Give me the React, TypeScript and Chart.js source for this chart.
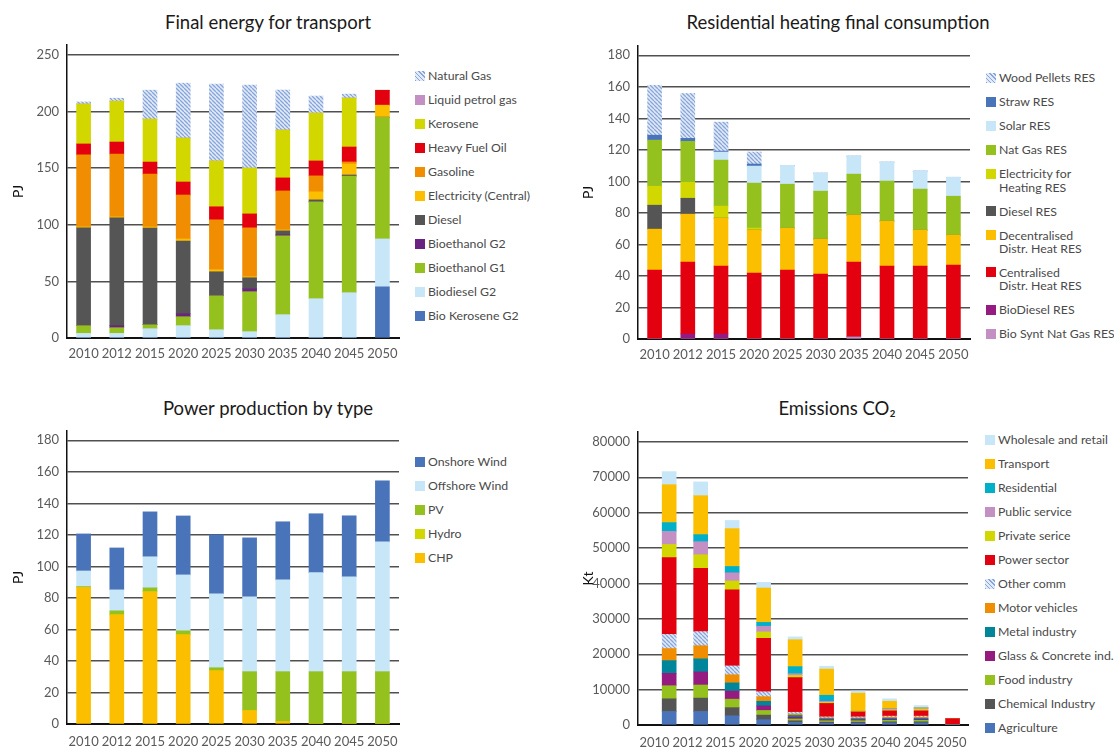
import React, { useEffect, useRef } from "react";
import { Chart, registerables } from "chart.js";

Chart.register(...registerables);

const FONT = "Lato, 'Noto Sans', sans-serif";

const years = ["2010", "2012", "2015", "2020", "2025", "2030", "2035", "2040", "2045", "2050"];

// ---- Final energy for transport (PJ) ----
const trBioKeroseneG2 = [0, 0, 0, 0, 0, 0, 0, 0, 0, 45.2];
const trBiodieselG2 = [4.1, 4.1, 8.2, 10.9, 7.3, 5.6, 20.6, 34.7, 40, 42.3];
const trBioethanolG1 = [6.8, 5, 3.5, 7.9, 30, 35.3, 69.6, 85.5, 103.1, 107.5];
const trBioethanolG2 = [0, 1.8, 0, 2.6, 0, 2.6, 0.9, 0, 0, 0];
const trDiesel = [86.4, 95.2, 85.5, 64.3, 21.2, 9.7, 3.5, 1.8, 0.9, 0];
const trElectricity = [0.9, 0.9, 0.9, 1.8, 1.8, 0.9, 0.9, 7.1, 9.7, 10.6];
const trGasoline = [63.5, 55.5, 46.7, 38.8, 44.1, 43.2, 34.4, 14.1, 1.8, 0];
const trHeavyFuelOil = [9.7, 10.6, 10.6, 11.5, 11.5, 12.3, 11.5, 13.2, 13.2, 13.2];
const trKerosene = [35.3, 36.1, 37.9, 38.8, 40.5, 40.5, 42.3, 42.3, 43.2, 0];
const trLiquidPetrolGas = [0, 0, 0, 0, 0, 0, 0, 0, 0, 0];
const trNaturalGas = [1.8, 2.6, 25.6, 48.5, 67.9, 73.2, 35.3, 15, 3.5, 0];

// ---- Residential heating final consumption (PJ) ----
const rsBioSyntNatGas = [0, 0, 0, 0, 0, 0, 1.3, 0, 0, 0];
const rsBioDiesel = [0, 3.2, 3.2, 0, 0, 0, 0, 0, 0, 0];
const rsCentralised = [43.7, 45.6, 43.1, 41.8, 43.7, 41.2, 47.5, 46.3, 46.3, 46.9];
const rsDecentralised = [26, 30.4, 30.4, 27.3, 26.6, 22.2, 29.8, 28.5, 22.8, 19];
const rsDiesel = [15.2, 10.1, 0, 0, 0, 0, 0, 0, 0, 0];
const rsElectricity = [12, 10.1, 7.6, 1.3, 0, 0, 0, 0, 0, 0];
const rsNatGas = [29.2, 26, 29.2, 28.5, 27.9, 30.4, 26, 25.4, 26, 24.7];
const rsSolar = [0, 0, 5.1, 10.8, 12, 11.4, 11.4, 12, 11.4, 12];
const rsStraw = [3.2, 1.9, 0.6, 1.3, 0, 0, 0, 0, 0, 0];
const rsWoodPellets = [31.7, 28.5, 18.4, 7.6, 0, 0, 0, 0, 0, 0];

// ---- Power production by type (PJ) ----
const pwCHP = [86.6, 69.3, 83.9, 56.6, 33.8, 8.5, 1.5, 0, 0, 0];
const pwHydro = [0, 0, 0, 0, 0, 0, 0, 0, 0, 0];
const pwPV = [0.6, 2.5, 2.5, 2.5, 1.9, 24.7, 31.7, 33.2, 33.2, 33.2];
const pwOffshore = [9.9, 13.3, 19.7, 35.5, 46.9, 47.5, 58.3, 62.8, 60.2, 82.4];
const pwOnshore = [23.5, 26.6, 28.5, 37.4, 37.4, 37.4, 36.8, 37.4, 38.7, 38.7];

// ---- Emissions CO2 (kt) ----
const emAgriculture = [3800, 3800, 2600, 1500, 700, 500, 500, 600, 600, 0];
const emChemical = [3600, 3800, 2300, 1300, 500, 300, 300, 300, 300, 0];
const emFood = [3700, 3700, 2400, 1300, 500, 400, 400, 400, 400, 0];
const emGlass = [3500, 3700, 2300, 1300, 500, 300, 300, 300, 300, 0];
const emMetal = [3600, 3700, 2300, 1300, 500, 300, 300, 300, 300, 0];
const emMotor = [3400, 3700, 2300, 1300, 400, 200, 200, 300, 300, 0];
const emOtherComm = [4000, 4000, 2500, 1400, 500, 300, 300, 300, 300, 0];
const emPower = [21700, 17900, 21500, 15100, 9800, 3800, 1400, 1500, 1500, 1800];
const emPrivate = [3700, 3800, 2500, 1800, 600, 300, 200, 300, 500, 0];
const emPublic = [3700, 3700, 2300, 1600, 500, 300, 0, 300, 300, 0];
const emResidential = [2500, 2000, 1800, 1100, 2000, 1700, 0, 0, 0, 0];
const emTransport = [10700, 11000, 10700, 9700, 7600, 7400, 5100, 2100, 100, 0];
const emWholesale = [3700, 3900, 2300, 1600, 800, 800, 600, 700, 600, 0];

const C = {
  hatch: "hatch",
  lavender: "#c490c4",
  lime: "#d3d700",
  red: "#e3000f",
  orange: "#f18d00",
  gold: "#fbbf00",
  dark: "#555555",
  purple: "#6b2382",
  magenta: "#951b81",
  green: "#95c11f",
  sky: "#c7e6f8",
  blue: "#4a74ba",
  cyan: "#00afc8",
  teal: "#00869b",
};

type Series = { label: string[]; data: number[]; color: string };
type PanelCfg = {
  title: string;
  titleX: number;
  titleY: number;
  left: number;
  top: number;
  width: number;
  height: number;
  padLeft: number;
  padRight: number;
  yWidth: number;
  yMax: number;
  step: number;
  yTitle: string;
  labelPad: number;
  shifted?: boolean;
  legendX: number;
  legendY: number;
  series: Series[]; // bottom to top
};

const PAD_TOP = 25;

const panels: PanelCfg[] = [
  {
    title: "Final energy for transport",
    titleX: 268, titleY: 22,
    left: 0, top: 20, width: 410, height: 348,
    padLeft: 10, padRight: 11, yWidth: 57,
    yMax: 258.8, step: 50, yTitle: "PJ", labelPad: 8,
    legendX: 415, legendY: 76,
    series: [
      { label: ["Bio Kerosene G2"], data: trBioKeroseneG2, color: C.blue },
      { label: ["Biodiesel G2"], data: trBiodieselG2, color: C.sky },
      { label: ["Bioethanol G1"], data: trBioethanolG1, color: C.green },
      { label: ["Bioethanol G2"], data: trBioethanolG2, color: C.purple },
      { label: ["Diesel"], data: trDiesel, color: C.dark },
      { label: ["Electricity (Central)"], data: trElectricity, color: C.gold },
      { label: ["Gasoline"], data: trGasoline, color: C.orange },
      { label: ["Heavy Fuel Oil"], data: trHeavyFuelOil, color: C.red },
      { label: ["Kerosene"], data: trKerosene, color: C.lime },
      { label: ["Liquid petrol gas"], data: trLiquidPetrolGas, color: C.lavender },
      { label: ["Natural Gas"], data: trNaturalGas, color: C.hatch },
    ],
  },
  {
    title: "Residential heating final consumption",
    titleX: 838, titleY: 22,
    left: 570, top: 21, width: 410, height: 348,
    padLeft: 10, padRight: 10, yWidth: 58,
    yMax: 185.9, step: 20, yTitle: "PJ", labelPad: 8,
    legendX: 986, legendY: 78,
    series: [
      { label: ["Bio Synt Nat Gas RES"], data: rsBioSyntNatGas, color: C.lavender },
      { label: ["BioDiesel RES"], data: rsBioDiesel, color: C.magenta },
      { label: ["Centralised", "Distr. Heat RES"], data: rsCentralised, color: C.red },
      { label: ["Decentralised", "Distr. Heat RES"], data: rsDecentralised, color: C.gold },
      { label: ["Diesel RES"], data: rsDiesel, color: C.dark },
      { label: ["Electricity for", "Heating RES"], data: rsElectricity, color: C.lime },
      { label: ["Nat Gas RES"], data: rsNatGas, color: C.green },
      { label: ["Solar RES"], data: rsSolar, color: C.sky },
      { label: ["Straw RES"], data: rsStraw, color: C.blue },
      { label: ["Wood Pellets RES"], data: rsWoodPellets, color: C.hatch },
    ],
  },
  {
    title: "Power production by type",
    titleX: 268, titleY: 408,
    left: 0, top: 406, width: 410, height: 348,
    padLeft: 10, padRight: 11, yWidth: 57,
    yMax: 185.9, step: 20, yTitle: "PJ", labelPad: 10,
    legendX: 415, legendY: 462,
    series: [
      { label: ["CHP"], data: pwCHP, color: C.gold },
      { label: ["Hydro"], data: pwHydro, color: C.lime },
      { label: ["PV"], data: pwPV, color: C.green },
      { label: ["Offshore Wind"], data: pwOffshore, color: C.sky },
      { label: ["Onshore Wind"], data: pwOnshore, color: C.blue },
    ],
  },
  {
    title: "Emissions CO\u2082",
    titleX: 837, titleY: 408,
    left: 570, top: 407, width: 408, height: 348,
    padLeft: 10, padRight: 10, yWidth: 58,
    yMax: 82800, step: 10000, yTitle: "Kt", labelPad: 10,
    shifted: true,
    legendX: 985, legendY: 440,
    series: [
      { label: ["Agriculture"], data: emAgriculture, color: C.blue },
      { label: ["Chemical Industry"], data: emChemical, color: C.dark },
      { label: ["Food industry"], data: emFood, color: C.green },
      { label: ["Glass & Concrete ind."], data: emGlass, color: C.magenta },
      { label: ["Metal industry"], data: emMetal, color: C.teal },
      { label: ["Motor vehicles"], data: emMotor, color: C.orange },
      { label: ["Other comm"], data: emOtherComm, color: C.hatch },
      { label: ["Power sector"], data: emPower, color: C.red },
      { label: ["Private serice"], data: emPrivate, color: C.lime },
      { label: ["Public service"], data: emPublic, color: C.lavender },
      { label: ["Residential"], data: emResidential, color: C.cyan },
      { label: ["Transport"], data: emTransport, color: C.gold },
      { label: ["Wholesale and retail"], data: emWholesale, color: C.sky },
    ],
  },
];

function makeHatch(): CanvasPattern | string {
  const c = document.createElement("canvas");
  c.width = 4;
  c.height = 4;
  const g = c.getContext("2d");
  if (!g) return "#b8cbe9";
  g.fillStyle = "#e2eaf7";
  g.fillRect(0, 0, 4, 4);
  g.strokeStyle = "#86a5da";
  g.lineWidth = 1.3;
  g.beginPath();
  for (let k = -4; k <= 8; k += 4) {
    g.moveTo(k, 0);
    g.lineTo(k + 4, 4);
  }
  g.stroke();
  return g.createPattern(c, "repeat") || "#b8cbe9";
}

const HATCH_CSS = "repeating-linear-gradient(45deg, #86a5da 0px, #86a5da 1px, #e2eaf7 1px, #e2eaf7 3px)";

function Panel({ p }: { p: PanelCfg }) {
  const ref = useRef<HTMLCanvasElement>(null);
  useEffect(() => {
    if (!ref.current) return;
    const hatch = makeHatch();
    const tickFont = { family: FONT, size: 13 };
    const datasets = p.series.map((s) => ({
      label: s.label.join(" "),
      data: p.shifted ? s.data.map((v, i) => ({ x: i, y: v })) : s.data,
      backgroundColor: s.color === "hatch" ? hatch : s.color,
      borderWidth: 0,
      barThickness: 14,
      xAxisID: p.shifted ? "xb" : "x",
    }));
    const scales: any = {
      x: {
        type: "category",
        stacked: true,
        grid: { display: false, drawTicks: false },
        border: { display: true, color: "#111", width: 2 },
        ticks: { color: "#5a5a5a", font: tickFont, padding: p.labelPad, autoSkip: false, maxRotation: 0, minRotation: 0 },
        afterFit: (s: any) => { s.height = 30; },
      },
      y: {
        stacked: true,
        min: 0,
        max: p.yMax,
        afterFit: (s: any) => { s.width = p.yWidth; },
        afterBuildTicks: (s: any) => {
          const t: { value: number }[] = [];
          for (let v = 0; v <= p.yMax + 1e-9; v += p.step) t.push({ value: v });
          s.ticks = t;
        },
        ticks: {
          stepSize: p.step,
          includeBounds: false,
          color: "#5a5a5a",
          font: tickFont,
          padding: 8,
          callback: (v: any) => String(Math.round(v * 100) / 100),
        },
        grid: { color: "#505050", lineWidth: 1.4, drawTicks: false },
        border: { display: true, color: "#111", width: 1.5 },
        title: { display: true, text: p.yTitle, color: "#111", font: { family: FONT, size: 14 }, padding: 0 },
      },
    };
    if (p.shifted) {
      scales.xb = {
        type: "linear",
        display: false,
        stacked: true,
        offset: false,
        min: -0.99,
        max: 9.49,
      };
    }
    const chart = new Chart(ref.current, {
      type: "bar",
      data: { labels: years, datasets: datasets as any },
      options: {
        animation: false,
        responsive: true,
        maintainAspectRatio: false,
        layout: { autoPadding: false, padding: { left: p.padLeft, right: p.padRight, top: PAD_TOP, bottom: 0 } },
        plugins: { legend: { display: false }, tooltip: { enabled: false } },
        scales,
      } as any,
    });
    return () => chart.destroy();
  }, [p]);

  const legendItems = [...p.series].reverse();
  return (
    <>
      <div
        style={{
          position: "absolute",
          left: p.titleX - 250,
          width: 500,
          top: p.titleY - 13,
          height: 26,
          lineHeight: "26px",
          textAlign: "center",
          fontFamily: FONT,
          fontSize: 18.5,
          color: "#1a1a1a",
        }}
      >
        {p.title}
      </div>
      <div style={{ position: "absolute", left: p.left, top: p.top, width: p.width, height: p.height }}>
        <canvas ref={ref} />
      </div>
      <div
        style={{
          position: "absolute",
          left: p.legendX,
          top: p.legendY - 6.65,
          display: "flex",
          flexDirection: "column",
          gap: "10.7px",
          fontFamily: FONT,
          fontSize: 12.3,
          lineHeight: "13.3px",
          color: "#4a4a4a",
          whiteSpace: "nowrap",
        }}
      >
        {legendItems.map((s, i) => (
          <div key={i} style={{ display: "flex", alignItems: "flex-start" }}>
            <div
              style={{
                width: 10,
                height: 10,
                marginTop: 1.65,
                marginRight: 3,
                flex: "0 0 auto",
                background: s.color === "hatch" ? HATCH_CSS : s.color,
              }}
            />
            <div>
              {s.label.map((t, j) => (
                <div key={j}>{t}</div>
              ))}
            </div>
          </div>
        ))}
      </div>
    </>
  );
}

export default function App() {
  return (
    <div
      style={{
        position: "absolute",
        left: 0,
        top: 0,
        width: 1114,
        height: 749,
        overflow: "hidden",
        background: "#fff",
      }}
    >
      {panels.map((p, i) => (
        <Panel key={i} p={p} />
      ))}
    </div>
  );
}
